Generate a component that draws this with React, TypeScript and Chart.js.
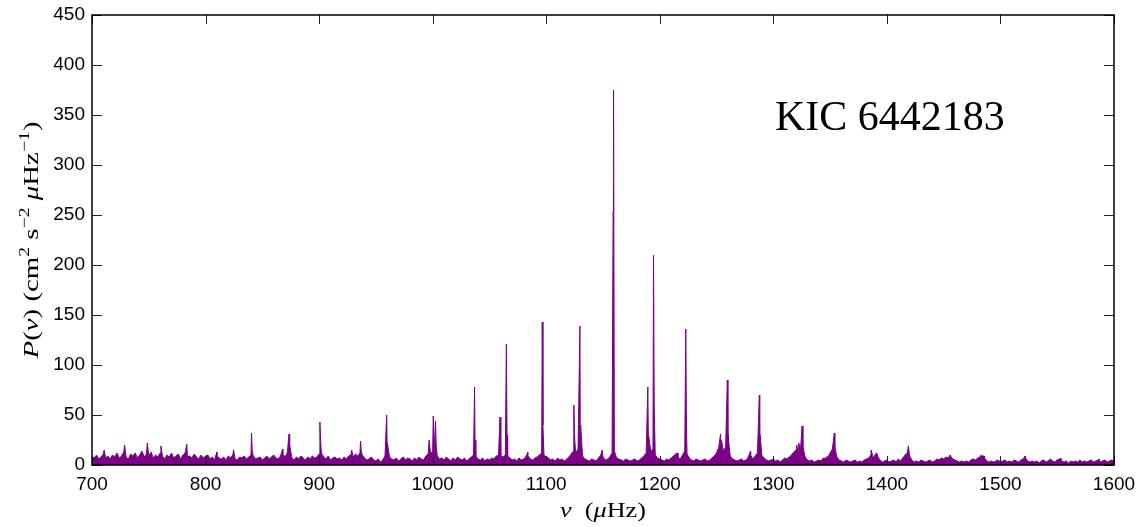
import { useEffect, useRef } from "react";
import { Chart, registerables } from "chart.js";

Chart.register(...registerables);

// ---- data ----
const noiseStart = 700; // µHz, first continuum sample
const noiseStep = 2; // µHz between continuum samples

// continuum / noise level, 700 .. 1600 µHz every 2 µHz
const noise700 = [9, 7, 10, 6, 8, 11, 7, 9, 6, 10, 8, 12, 7, 9, 13, 8, 6, 11, 9, 12, 7, 10, 14, 8, 11, 9, 13, 7, 10, 8, 12, 9, 6, 10, 8, 12, 7, 9, 11, 6, 10, 12, 8, 9, 7, 11, 8, 6, 10, 7];
const noise800 = [9, 10, 6, 8, 5, 9, 7, 6, 8, 5, 9, 7, 10, 6, 5, 8, 7, 9, 6, 8, 10, 9, 6, 7, 8, 5, 7, 9, 6, 8, 10, 7, 6, 9, 11, 8, 12, 10, 7, 5, 8, 6, 9, 7, 5, 8, 6, 9, 7, 8];
const noise900 = [11, 12, 8, 6, 9, 5, 7, 8, 6, 7, 5, 8, 6, 9, 10, 8, 11, 9, 12, 10, 7, 5, 6, 8, 5, 4, 6, 3, 5, 9, 11, 8, 6, 5, 7, 4, 6, 8, 5, 7, 6, 4, 7, 5, 8, 6, 5, 9, 11, 12];
const noise1000 = [13, 12, 9, 6, 7, 5, 8, 6, 4, 7, 5, 8, 6, 5, 7, 4, 6, 8, 10, 9, 6, 5, 7, 4, 6, 5, 7, 6, 9, 10, 9, 8, 10, 9, 7, 5, 6, 4, 7, 5, 6, 8, 9, 6, 5, 7, 8, 10, 12, 10];
const noise1100 = [8, 7, 5, 6, 4, 7, 5, 6, 4, 6, 8, 11, 14, 12, 16, 13, 9, 6, 5, 4, 6, 5, 4, 7, 10, 8, 5, 6, 8, 12, 14, 7, 6, 5, 4, 6, 5, 4, 5, 6, 4, 5, 7, 9, 12, 18, 14, 16, 10, 7];
const noise1200 = [6, 5, 4, 6, 5, 7, 9, 11, 8, 6, 10, 14, 11, 7, 5, 4, 6, 5, 4, 5, 6, 4, 5, 7, 9, 12, 18, 16, 14, 18, 14, 9, 6, 5, 4, 5, 6, 4, 5, 8, 10, 6, 9, 12, 15, 9, 7, 5, 4, 5];
const noise1300 = [6, 4, 5, 3, 5, 7, 6, 8, 10, 13, 15, 12, 16, 12, 8, 5, 4, 5, 3, 4, 5, 4, 7, 6, 8, 12, 16, 13, 8, 5, 4, 3, 5, 4, 3, 4, 5, 3, 4, 3, 5, 6, 7, 10, 7, 11, 8, 5, 3, 4];
const noise1400 = [5, 3, 4, 5, 3, 6, 4, 7, 10, 12, 9, 5, 3, 4, 3, 5, 4, 3, 4, 5, 3, 4, 6, 5, 7, 6, 8, 7, 9, 6, 5, 4, 3, 4, 3, 4, 3, 5, 6, 5, 7, 8, 9, 7, 4, 3, 4, 3, 4, 5];
const noise1500 = [3, 4, 5, 3, 4, 3, 5, 4, 3, 5, 6, 7, 4, 3, 4, 3, 4, 2, 4, 5, 3, 4, 6, 4, 3, 5, 6, 4, 3, 4, 2, 4, 3, 4, 3, 5, 3, 4, 3, 4, 5, 3, 4, 5, 3, 4, 5, 3, 4, 5, 4];

// narrow oscillation peaks (frequency in µHz, power)
const peakFreqs = [
  710.7, 728.7, 748.7, 760.7, 783.5, 809.9, 824.7, 840.5, 841.1, 867.9,
  873.5, 874.1, 900.7, 901.3, 928.7, 936.5, 937.1, 959.5, 960.1, 996.9,
  1000.5, 1002.5, 1003.1, 1036.9, 1037.3, 1059.3, 1064.9, 1065.5, 1083.9, 1096.5,
  1097.1, 1124.3, 1125.1, 1129.7, 1130.3, 1149.3, 1158.9, 1159.3, 1189.5, 1190.1,
  1194.5, 1195.1, 1215.9, 1222.9, 1223.5, 1253.5, 1254.3, 1259.5, 1260.1, 1279.9,
  1287.7, 1288.3, 1320.5, 1322.3, 1325.3, 1326.1, 1346.5, 1353.7, 1354.3, 1386.1,
  1391.1, 1418.9, 1455.7, 1483.1, 1485.7, 1521.7, 1553.1, 1586.7,
];
const peakPowers = [
  15, 20, 22, 19, 21, 13, 15, 32, 14, 16,
  31, 20, 43, 25, 15, 24, 14, 50, 22, 25,
  49, 44, 20, 78, 25, 48, 121, 30, 13, 143,
  40, 60, 25, 139, 40, 15, 254, 375, 78, 30,
  210, 60, 12, 136, 40, 31, 25, 85, 30, 14,
  70, 30, 20, 22, 39, 18, 8, 32, 18, 15,
  12, 19, 10, 10, 9, 9, 7, 6,
];

const xMin = 700;
const xMax = 1600;
const xStep = 100;
const yMin = 0;
const yMax = 450;
const yStep = 50;

const starLabel = "KIC 6442183";

// ---- styling ----
const PURPLE = "rgb(122,0,134)";
const SANS = "'Liberation Sans', Arial, Helvetica, sans-serif";
const SERIF = "'Liberation Serif', 'Times New Roman', serif";

type Run = { t: string; it?: boolean; sup?: boolean };

const yTitleRuns: Run[] = [
  { t: "P", it: true },
  { t: "(" },
  { t: "ν", it: true },
  { t: ")" },
  { t: " (" },
  { t: "cm" },
  { t: "2", sup: true },
  { t: " s" },
  { t: "−2", sup: true },
  { t: " " },
  { t: "μ", it: true },
  { t: "Hz" },
  { t: "−1", sup: true },
  { t: ")" },
];
const xTitleRuns: Run[] = [
  { t: "ν", it: true },
  { t: "  (" },
  { t: "μ", it: true },
  { t: "Hz" },
  { t: ")" },
];

function drawRuns(ctx: CanvasRenderingContext2D, runs: Run[], size: number, targetW?: number) {
  const fontFor = (r: Run) => `${r.it ? "italic " : ""}${r.sup ? Math.round(size * 0.7) : size}px ${SERIF}`;
  const widths = runs.map((r) => {
    ctx.font = fontFor(r);
    return ctx.measureText(r.t).width;
  });
  const total = widths.reduce((a, b) => a + b, 0);
  const sx = targetW ? targetW / total : 1;
  ctx.save();
  ctx.scale(sx, 1);
  let x = -total / 2;
  runs.forEach((r, i) => {
    ctx.font = fontFor(r);
    ctx.fillText(r.t, x, r.sup ? -size * 0.42 : 0);
    x += widths[i];
  });
  ctx.restore();
}

const framePlugin = {
  id: "frame",
  afterDatasetsDraw(chart: any) {
    const { ctx, chartArea: a, scales } = chart;
    ctx.save();
    ctx.strokeStyle = "#222";
    ctx.lineWidth = 1;
    ctx.beginPath();
    for (const t of scales.x.ticks) {
      const px = Math.round(scales.x.getPixelForValue(t.value)) + 0.5;
      ctx.moveTo(px, a.bottom);
      ctx.lineTo(px, a.bottom - 9);
      ctx.moveTo(px, a.top);
      ctx.lineTo(px, a.top + 9);
    }
    for (const t of scales.y.ticks) {
      const py = Math.round(scales.y.getPixelForValue(t.value)) + 0.5;
      ctx.moveTo(a.left, py);
      ctx.lineTo(a.left + 10, py);
      ctx.moveTo(a.right, py);
      ctx.lineTo(a.right - 10, py);
    }
    ctx.stroke();
    ctx.strokeStyle = "#000";
    ctx.lineWidth = 1.5;
    ctx.strokeRect(a.left, a.top, a.right - a.left, a.bottom - a.top);

    ctx.fillStyle = "#000";
    ctx.textBaseline = "alphabetic";
    // x title
    ctx.save();
    ctx.translate((a.left + a.right) / 2, 517);
    drawRuns(ctx, xTitleRuns, 21, 86);
    ctx.restore();
    // y title
    ctx.save();
    ctx.translate(38, (a.top + a.bottom) / 2);
    ctx.rotate(-Math.PI / 2);
    drawRuns(ctx, yTitleRuns, 22, 237);
    ctx.restore();
    // star label
    ctx.font = `42px ${SERIF}`;
    ctx.textAlign = "left";
    ctx.fillText(starLabel, 775, 130);
    ctx.restore();
  },
};

export default function App() {
  const ref = useRef<HTMLCanvasElement | null>(null);

  useEffect(() => {
    if (!ref.current) return;
    const noise = [
      ...noise700,
      ...noise800,
      ...noise900,
      ...noise1000,
      ...noise1100,
      ...noise1200,
      ...noise1300,
      ...noise1400,
      ...noise1500,
    ];
    const pts = noise.map((v, i) => ({ x: noiseStart + i * noiseStep, y: v }));
    peakFreqs.forEach((f, i) => pts.push({ x: f, y: peakPowers[i] }));
    pts.sort((p, q) => p.x - q.x);

    const chart = new Chart(ref.current, {
      type: "line",
      data: {
        datasets: [
          {
            data: pts,
            borderColor: PURPLE,
            backgroundColor: PURPLE,
            borderWidth: 1,
            pointRadius: 0,
            pointBorderWidth: 0,
            pointHoverRadius: 0,
            tension: 0,
            fill: "origin",
          },
        ],
      },
      options: {
        animation: false,
        responsive: true,
        maintainAspectRatio: false,
        devicePixelRatio: 1,
        parsing: false,
        normalized: true,
        layout: { autoPadding: false, padding: { left: 0, right: 26, top: 15, bottom: 0 } },
        plugins: { legend: { display: false }, tooltip: { enabled: false } },
        scales: {
          x: {
            type: "linear",
            min: xMin,
            max: xMax,
            grid: { display: false, drawTicks: false },
            border: { display: false },
            ticks: {
              stepSize: xStep,
              padding: 8,
              color: "#000",
              maxRotation: 0,
              font: { family: SANS, size: 19 },
              callback: (v: any) => String(v),
            },
            afterFit: (s: any) => {
              s.height = 62;
              s.paddingLeft = 0;
              s.paddingRight = 0;
              s.paddingTop = 0;
              s.paddingBottom = 0;
            },
          },
          y: {
            type: "linear",
            min: yMin,
            max: yMax,
            grid: { display: false, drawTicks: false },
            border: { display: false },
            ticks: {
              stepSize: yStep,
              padding: 7,
              color: "#000",
              font: { family: SANS, size: 19 },
              callback: (v: any) => String(v),
            },
            afterFit: (s: any) => {
              s.width = 92;
              s.paddingLeft = 0;
              s.paddingRight = 0;
              s.paddingTop = 0;
              s.paddingBottom = 0;
            },
          },
        },
      },
      plugins: [framePlugin],
    });
    return () => chart.destroy();
  }, []);

  return (
    <div style={{ position: "absolute", left: 0, top: 0, width: 1140, height: 527, background: "#fff" }}>
      <canvas ref={ref} />
    </div>
  );
}
